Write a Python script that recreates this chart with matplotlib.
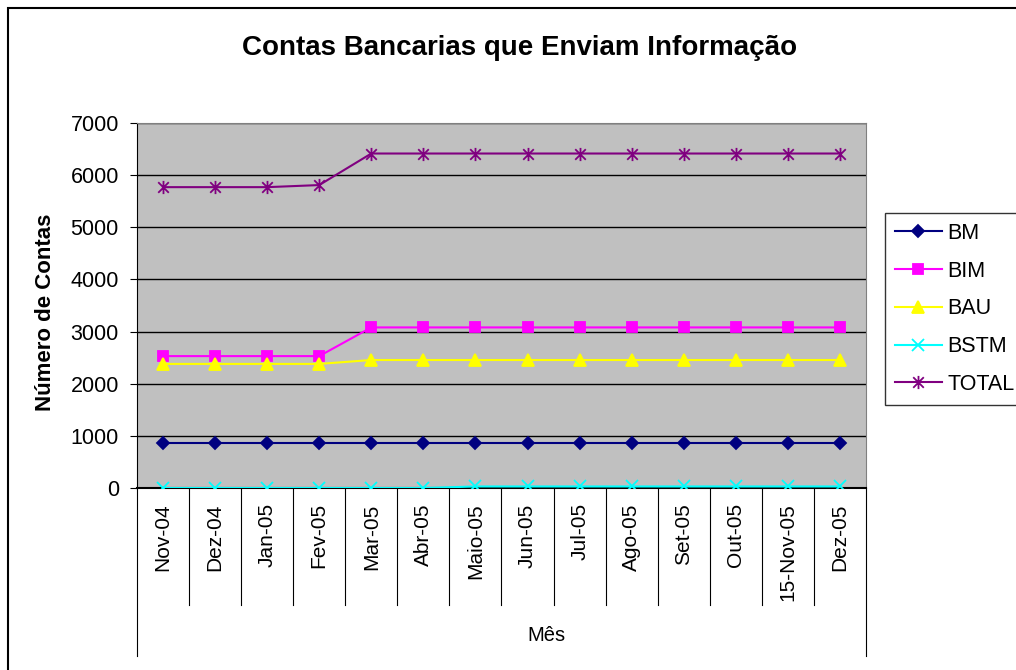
import numpy as np
import matplotlib.pyplot as plt
from matplotlib.path import Path
from matplotlib.lines import Line2D

plt.rcParams['font.family'] = ['Liberation Sans', 'DejaVu Sans']

meses = ['Nov-04', 'Dez-04', 'Jan-05', 'Fev-05', 'Mar-05', 'Abr-05', 'Maio-05',
         'Jun-05', 'Jul-05', 'Ago-05', 'Set-05', 'Out-05', '15-Nov-05', 'Dez-05']

bm = [860, 860, 860, 860, 860, 860, 860, 860, 860, 860, 860, 860, 860, 860]
bim = [2530, 2530, 2530, 2530, 3080, 3080, 3080, 3080, 3080, 3080, 3080, 3080, 3080, 3080]
bau = [2380, 2380, 2380, 2380, 2455, 2455, 2455, 2455, 2455, 2455, 2455, 2455, 2455, 2455]
bstm = [0, 0, 0, 0, 0, 0, 30, 30, 30, 30, 30, 30, 30, 30]
total = [5770, 5770, 5770, 5810, 6415, 6415, 6415, 6415, 6415, 6415, 6415, 6415, 6415, 6415]

# excel style star marker: x plus vertical bar
star = Path([(0, -1), (0, 1), (-0.8, -0.8), (0.8, 0.8), (-0.8, 0.8), (0.8, -0.8)],
            [Path.MOVETO, Path.LINETO, Path.MOVETO, Path.LINETO, Path.MOVETO, Path.LINETO])

series = [
    ('BM', bm, '#000080', 'D', 6.5),
    ('BIM', bim, '#FF00FF', 's', 6.5),
    ('BAU', bau, '#FFFF00', '^', 8),
    ('BSTM', bstm, '#00FFFF', 'x', 8.5),
    ('TOTAL', total, '#800080', star, 9.5),
]

fig = plt.figure(figsize=(10.16, 6.7), dpi=100)
ax = fig.add_axes([0.1348, 0.2716, 0.7176, 0.5448])
ax.set_facecolor('#C0C0C0')

x = np.arange(len(meses))
handles = []
for name, vals, col, mk, ms in series:
    line, = ax.plot(x, vals, color=col, marker=mk, markersize=ms, linewidth=1.5,
                    markeredgecolor=col, markerfacecolor=col, markeredgewidth=1.3,
                    label=name, zorder=3)
    handles.append(line)

ax.set_xlim(-0.5, len(meses) - 0.5)
ax.set_ylim(0, 7000)
ax.set_yticks(np.arange(0, 7001, 1000))
ax.yaxis.grid(True, color='black', linewidth=1)
ax.set_axisbelow(True)
ax.tick_params(axis='y', labelsize=15.5, direction='out', length=5, pad=8)

ax.set_xticks(x)
ax.set_xticklabels(meses, rotation=90, fontsize=15, va='top')
ax.tick_params(axis='x', length=0, pad=11)

for s in ['top', 'right']:
    ax.spines[s].set_color('#808080')
ax.spines['left'].set_color('black')
ax.spines['bottom'].set_color('black')
ax.spines['bottom'].set_linewidth(1.5)

# category separators below the axis
for b in np.arange(0.5, len(meses) - 1, 1.0):
    ax.add_line(Line2D([b, b], [0, -0.32], transform=ax.get_xaxis_transform(),
                       color='black', linewidth=0.8, clip_on=False))
for b in [-0.5, len(meses) - 0.5]:
    ax.add_line(Line2D([b, b], [0, -0.46], transform=ax.get_xaxis_transform(),
                       color='black', linewidth=0.8, clip_on=False))

fig.text(0.538, 0.052, 'Mês', ha='center', va='center', fontsize=14.5)
fig.text(0.045, 0.534, 'Número de Contas', rotation=90, ha='center', va='center',
         fontsize=16, fontweight='bold')
fig.text(0.511, 0.928, 'Contas Bancarias que Enviam Informação', ha='center',
         va='center', fontsize=20, fontweight='bold')

leg = fig.legend(handles=handles, loc='upper left', bbox_to_anchor=(0.871, 0.682),
                 fontsize=15.5, frameon=True, fancybox=False, edgecolor='black',
                 handlelength=2.2, labelspacing=0.78, borderpad=0.45, handletextpad=0.25,
                 borderaxespad=0)
leg.get_frame().set_linewidth(1)

# outer chart border
fig.add_artist(plt.Rectangle((0.008, -0.1), 1.2, 1.088, transform=fig.transFigure,
                             fill=False, edgecolor='black', linewidth=1.5))

fig.savefig('out.png', dpi=100)
